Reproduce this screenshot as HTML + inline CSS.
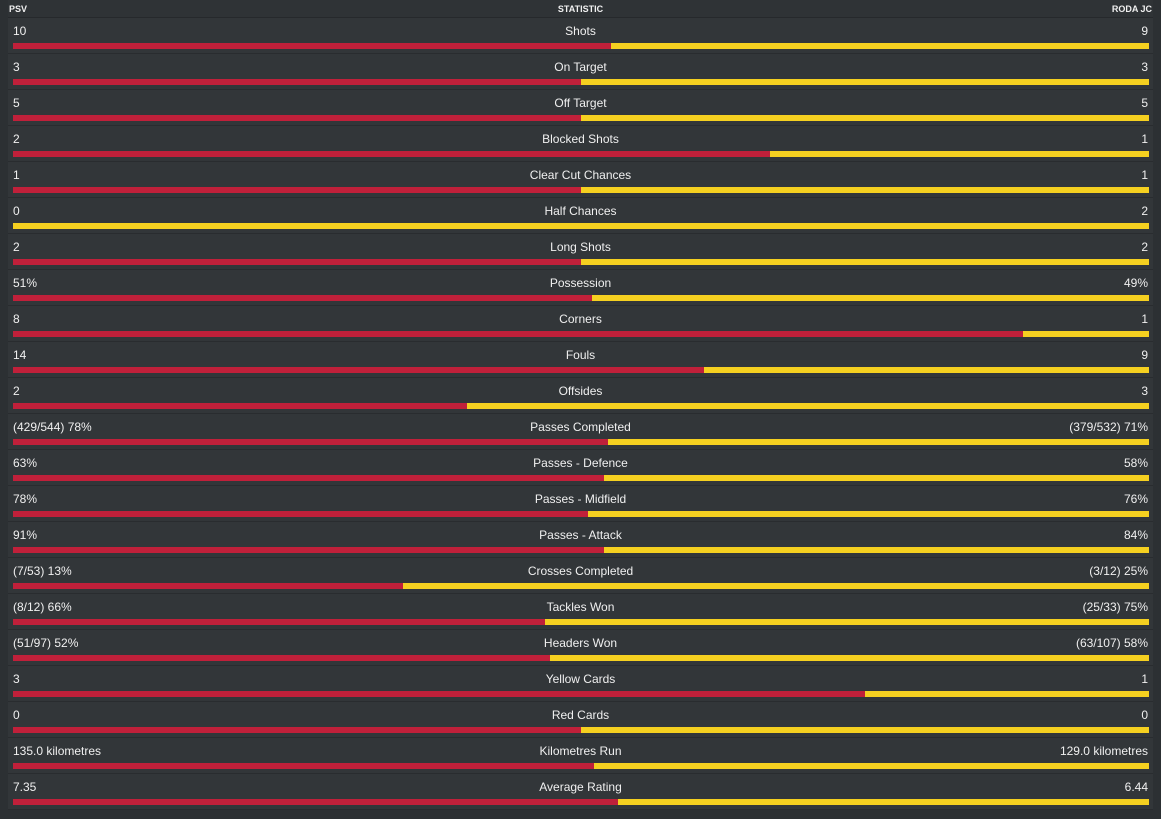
<!DOCTYPE html>
<html><head><meta charset="utf-8"><style>
body{margin:0;width:1161px;height:819px;background:#2c3033;font-family:"Liberation Sans",sans-serif;color:#f0f0f0;position:relative;overflow:hidden}
.hdr{position:absolute;top:0;left:8px;right:8px;height:17px;background:#2f3336;border-bottom:1px solid #26292c;font-size:9px;font-weight:bold}
.hdr span{position:absolute;top:4px}
.row{position:absolute;left:8px;right:8px;height:35px;background:#323639;border-bottom:1px solid #292c2f}
.row .l{position:absolute;left:5px;top:6px;font-size:12px}
.row .c{position:absolute;left:0;right:0;text-align:center;top:6px;font-size:12px}
.row .r{position:absolute;right:5px;top:6px;font-size:12px}
.bar{position:absolute;left:5px;width:1136px;top:25px;height:6px;background:#f5d020}
.bar i{position:absolute;left:0;top:0;height:6px;background:#c0203a}
</style></head><body>
<div class="hdr"><span style="left:1px">PSV</span><span style="left:0;right:0;text-align:center">STATISTIC</span><span style="right:1px">RODA JC</span></div>
<div id="rows"></div>
<script>
var d=[["10","Shots","9",611],["3","On Target","3",581],["5","Off Target","5",581],["2","Blocked Shots","1",770],["1","Clear Cut Chances","1",581],["0","Half Chances","2",13],["2","Long Shots","2",581],["51%","Possession","49%",592],["8","Corners","1",1023],["14","Fouls","9",704],["2","Offsides","3",467],["(429/544) 78%","Passes Completed","(379/532) 71%",608],["63%","Passes - Defence","58%",604],["78%","Passes - Midfield","76%",588],["91%","Passes - Attack","84%",604],["(7/53) 13%","Crosses Completed","(3/12) 25%",403],["(8/12) 66%","Tackles Won","(25/33) 75%",545],["(51/97) 52%","Headers Won","(63/107) 58%",550],["3","Yellow Cards","1",865],["0","Red Cards","0",581],["135.0 kilometres","Kilometres Run","129.0 kilometres",594],["7.35","Average Rating","6.44",618]];
var h="";d.forEach(function(r,i){h+='<div class="row" style="top:'+(18+36*i)+'px"><span class="l">'+r[0]+'</span><span class="c">'+r[1]+'</span><span class="r">'+r[2]+'</span><div class="bar"><i style="width:'+(r[3]-13)+'px"></i></div></div>';});
document.getElementById("rows").innerHTML=h;
</script>
</body></html>
